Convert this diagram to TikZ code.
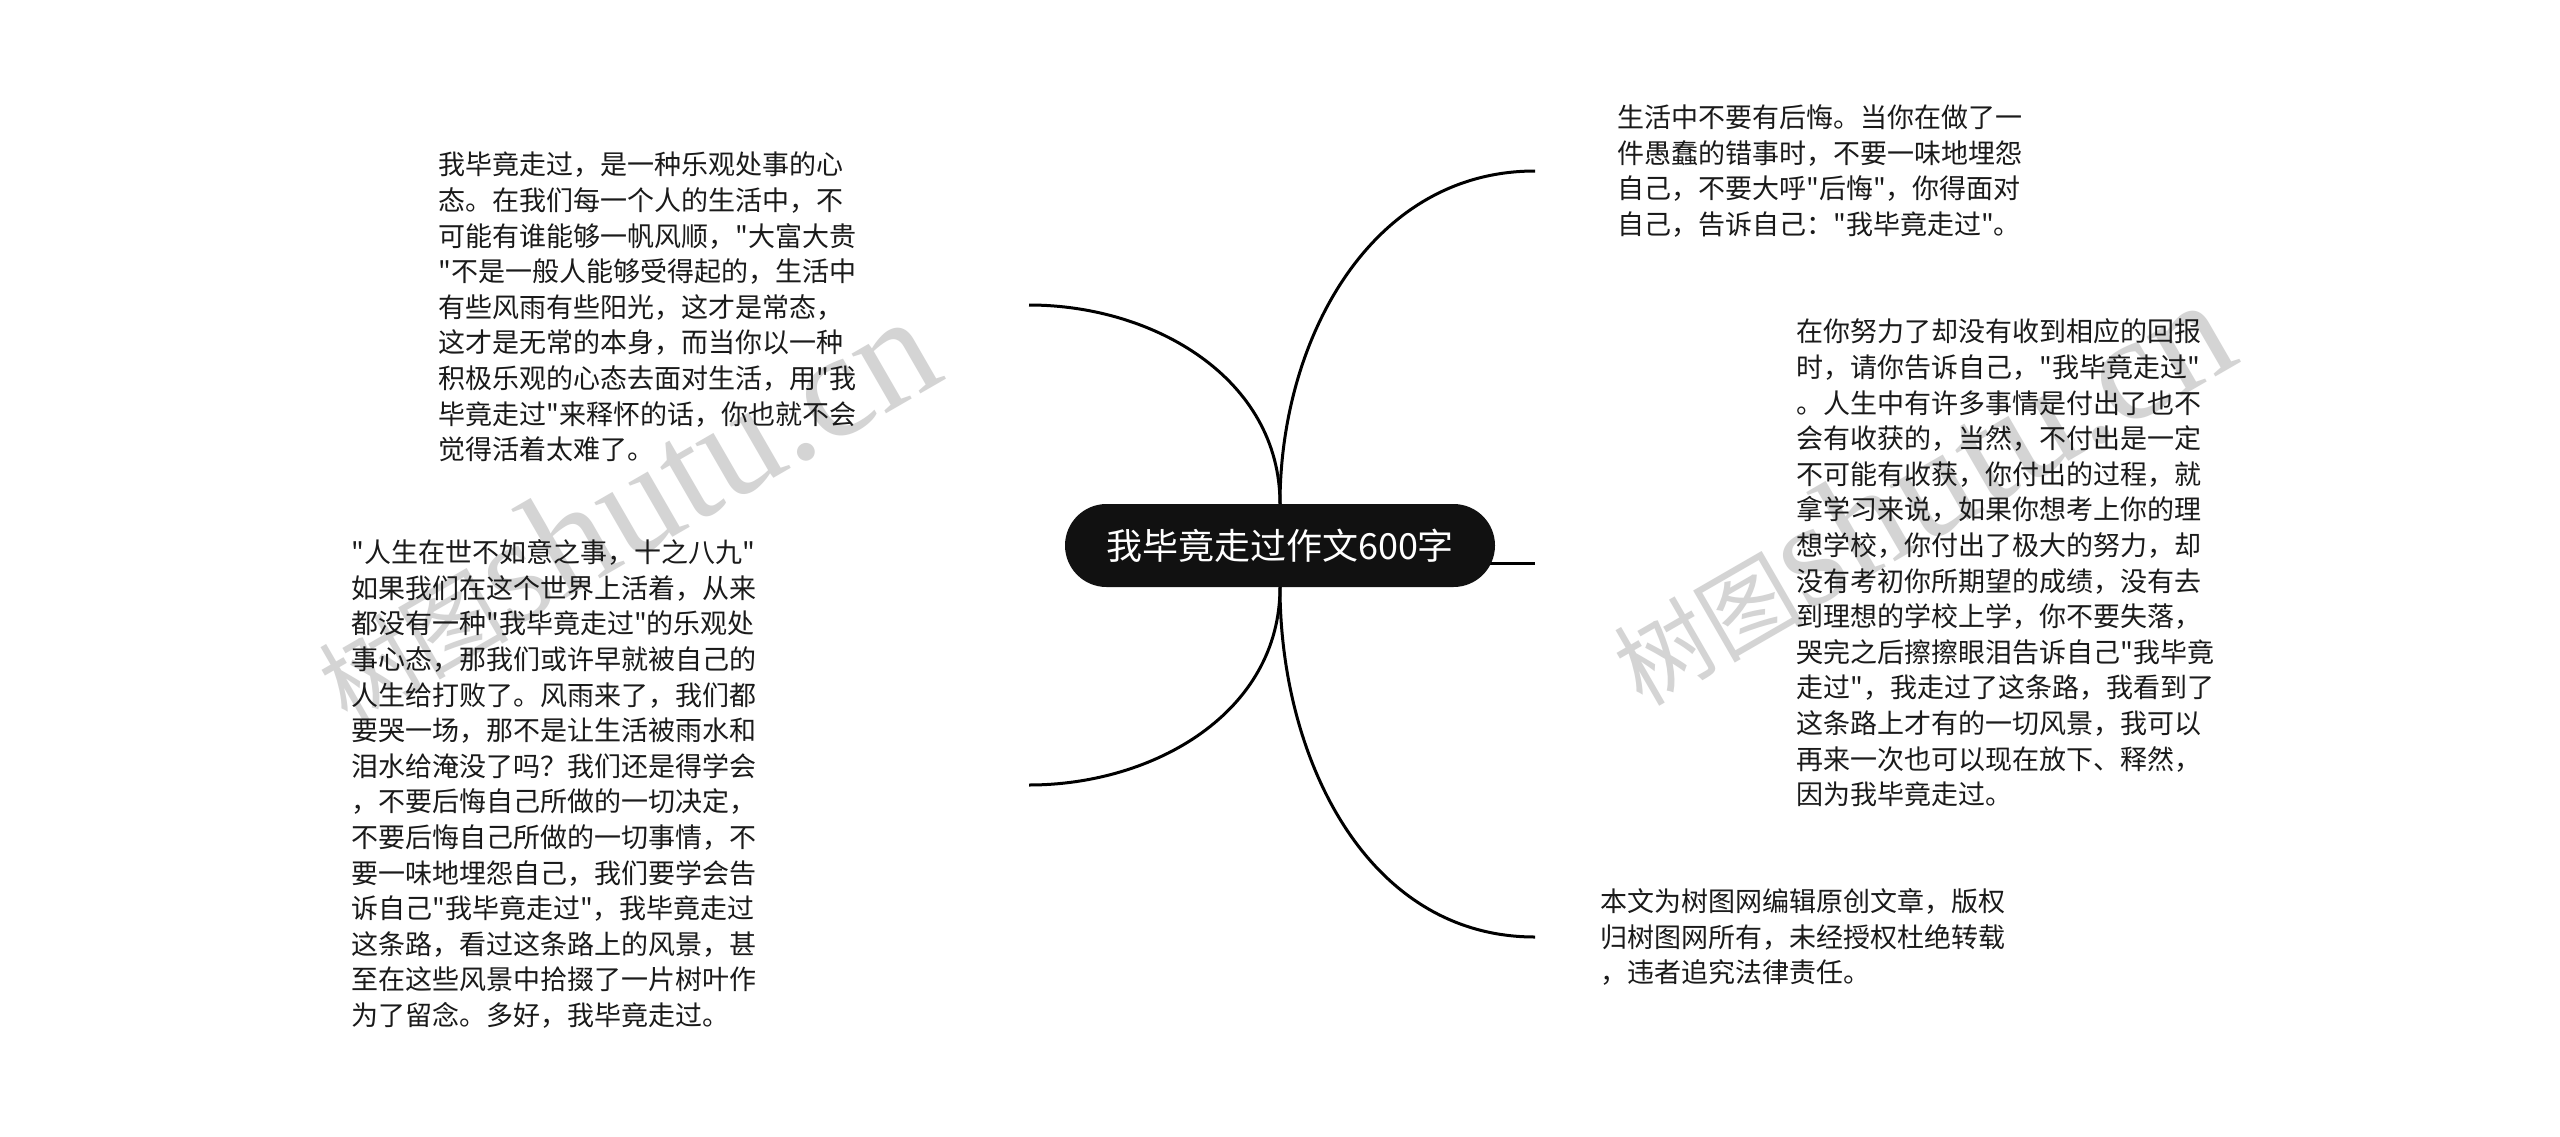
\documentclass[tikz,border=0pt]{standalone}
\usepackage{fontspec}
\setmainfont{Noto Sans CJK SC}[Ligatures=TeXOff]
\newfontfamily\wmlatin{Liberation Serif}
\usepackage{tikz}
\usetikzlibrary{positioning,backgrounds}
\definecolor{rootfill}{HTML}{111111}
\definecolor{leaftext}{HTML}{1A1A1A}
\definecolor{wmgray}{HTML}{D4D4D4}

\begin{document}
\begin{tikzpicture}[x=1pt, y=-1pt,
  root/.style={fill=rootfill, text=white, rounded corners=41.5pt,
    minimum width=430pt, minimum height=83pt, inner sep=0pt,
    font=\fontsize{36}{40}\selectfont},
  leaf/.style={anchor=west, align=left, inner sep=0pt, text=leaftext,
    font=\fontsize{27}{35.6}\selectfont},
  branch/.style={draw=black, line width=3pt},
  wmtext/.style={text=wmgray, inner sep=0pt, anchor=base west, rotate=30,
    font=\fontsize{95}{100}\selectfont}]
\useasboundingbox (0,0) rectangle (2560,1136);

\node[root] (root) at (1280,545.5) {我毕竟走过作文600字};

\coordinate (ul) at (1029,305);
\coordinate (ll) at (1029,785);
\coordinate (ur) at (1535,171);
\coordinate (mr) at (1535,563);
\coordinate (lr) at (1535,937);

\node[leaf] (ulText) at (438,307) {
我毕竟走过，是一种乐观处事的心\\
态。在我们每一个人的生活中，不\\
可能有谁能够一帆风顺，"大富大贵\\
"不是一般人能够受得起的，生活中\\
有些风雨有些阳光，这才是常态，\\
这才是无常的本身，而当你以一种\\
积极乐观的心态去面对生活，用"我\\
毕竟走过"来释怀的话，你也就不会\\
觉得活着太难了。};

\node[leaf] (llText) at (351,784) {
"人生在世不如意之事，十之八九"\\
如果我们在这个世界上活着，从来\\
都没有一种"我毕竟走过"的乐观处\\
事心态，那我们或许早就被自己的\\
人生给打败了。风雨来了，我们都\\
要哭一场，那不是让生活被雨水和\\
泪水给淹没了吗？我们还是得学会\\
，不要后悔自己所做的一切决定，\\
不要后悔自己所做的一切事情，不\\
要一味地埋怨自己，我们要学会告\\
诉自己"我毕竟走过"，我毕竟走过\\
这条路，看过这条路上的风景，甚\\
至在这些风景中拾掇了一片树叶作\\
为了留念。多好，我毕竟走过。};

\node[leaf, right=82pt of ur] (urText) {
生活中不要有后悔。当你在做了一\\
件愚蠢的错事时，不要一味地埋怨\\
自己，不要大呼"后悔"，你得面对\\
自己，告诉自己："我毕竟走过"。};

\node[leaf, right=261pt of mr] (mrText) {
在你努力了却没有收到相应的回报\\
时，请你告诉自己，"我毕竟走过"\\
。人生中有许多事情是付出了也不\\
会有收获的，当然，不付出是一定\\
不可能有收获，你付出的过程，就\\
拿学习来说，如果你想考上你的理\\
想学校，你付出了极大的努力，却\\
没有考初你所期望的成绩，没有去\\
到理想的学校上学，你不要失落，\\
哭完之后擦擦眼泪告诉自己"我毕竟\\
走过"，我走过了这条路，我看到了\\
这条路上才有的一切风景，我可以\\
再来一次也可以现在放下、释然，\\
因为我毕竟走过。};

\node[leaf, right=65pt of lr] (lrText) {
本文为树图网编辑原创文章，版权\\
归树图网所有，未经授权杜绝转载\\
，违者追究法律责任。};

\begin{scope}[on background layer]
\fill[white] (0,0) rectangle (2560,1136);
\node[wmtext] (wmLeft) at (347,725) {树图{\wmlatin\fontsize{150}{150}\selectfont shutu.cn}};
\node[wmtext] (wmRight) at (1642,708) {树图{\wmlatin\fontsize{150}{150}\selectfont shutu.cn}};
\draw[branch] (root.north) to[out=90, in=0] (ul);
\draw[branch] (root.north) to[out=90, in=180] (ur);
\draw[branch] (root.center |- mr) -- (mr);
\draw[branch] (root.south) to[out=-90, in=0] (ll);
\draw[branch] (root.south) to[out=-90, in=180] (lr);
\end{scope}
\end{tikzpicture}
\end{document}
